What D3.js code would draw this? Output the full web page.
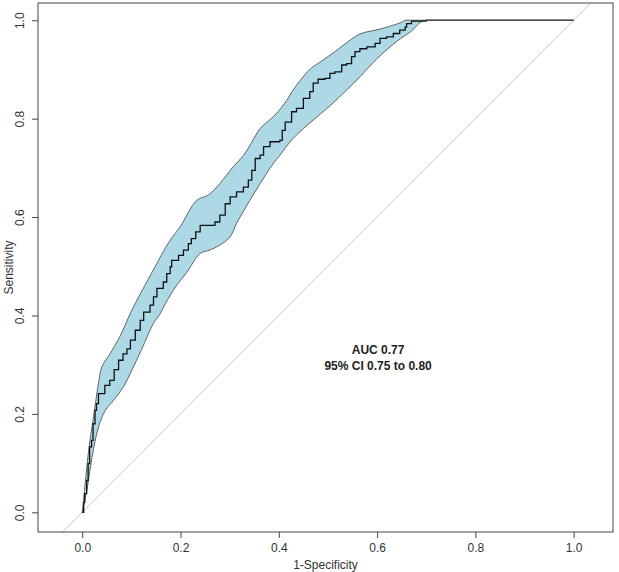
<!DOCTYPE html>
<html><head><meta charset="utf-8">
<script src="https://cdn.jsdelivr.net/npm/d3@7"></script>
<style>body{margin:0;background:#fff}svg{display:block;font-family:"Liberation Sans",Arial,sans-serif}</style>
</head><body>
<svg id="c" width="619" height="572"></svg>
<script>
// ROC curve (1-specificity, sensitivity)
const rocFpr  = [0,0.003,0.005,0.009,0.012,0.015,0.019,0.022,0.026,0.029,0.033,0.046,0.056,0.065,0.074,0.083,0.091,0.098,0.108,0.118,0.125,0.138,0.145,0.152,0.165,0.172,0.179,0.182,0.196,0.206,0.216,0.222,0.231,0.24,0.27,0.28,0.291,0.301,0.314,0.328,0.338,0.345,0.352,0.362,0.369,0.382,0.402,0.407,0.413,0.426,0.436,0.45,0.463,0.47,0.48,0.494,0.504,0.514,0.528,0.538,0.548,0.555,0.565,0.579,0.596,0.606,0.619,0.633,0.646,0.657,0.66,0.67,0.7,1.0];
const rocSens = [0,0.02,0.038,0.065,0.099,0.133,0.146,0.18,0.207,0.221,0.241,0.258,0.268,0.29,0.309,0.322,0.332,0.35,0.37,0.39,0.407,0.421,0.438,0.455,0.468,0.485,0.499,0.512,0.522,0.533,0.546,0.556,0.57,0.583,0.59,0.604,0.627,0.641,0.651,0.661,0.675,0.695,0.719,0.726,0.743,0.753,0.756,0.776,0.793,0.814,0.821,0.841,0.855,0.872,0.88,0.882,0.892,0.895,0.909,0.912,0.926,0.936,0.942,0.946,0.953,0.963,0.966,0.973,0.98,0.986,0.993,0.998,1.0,1.0];
// Upper CI bound
const upFpr  = [0,0.006,0.013,0.023,0.033,0.04,0.057,0.077,0.101,0.128,0.152,0.165,0.179,0.199,0.233,0.257,0.28,0.307,0.328,0.345,0.362,0.392,0.416,0.429,0.463,0.49,0.514,0.54,0.565,0.606,0.633,0.65,0.657];
const upSens = [0,0.058,0.126,0.194,0.262,0.296,0.323,0.358,0.411,0.462,0.506,0.53,0.553,0.58,0.634,0.645,0.668,0.702,0.725,0.752,0.78,0.807,0.837,0.858,0.9,0.919,0.936,0.956,0.972,0.982,0.99,0.996,1.0];
// Lower CI bound
const loFpr  = [0,0.0095,0.02,0.033,0.047,0.064,0.084,0.101,0.12,0.145,0.159,0.169,0.192,0.213,0.24,0.26,0.28,0.301,0.314,0.341,0.362,0.386,0.404,0.423,0.45,0.477,0.504,0.538,0.565,0.6,0.64,0.67,0.687,0.697];
const loSens = [0,0.045,0.112,0.173,0.207,0.228,0.255,0.289,0.329,0.384,0.404,0.424,0.461,0.488,0.526,0.533,0.543,0.56,0.587,0.634,0.668,0.705,0.728,0.753,0.78,0.803,0.826,0.858,0.885,0.922,0.957,0.978,0.995,1.0];
const xTicks = [0,0.2,0.4,0.6,0.8,1.0];
const yTicks = [0,0.2,0.4,0.6,0.8,1.0];
const aucLines = ["AUC 0.77","95% CI 0.75 to 0.80"];
const xTitle = "1-Specificity", yTitle = "Sensitivity";

const svg = d3.select("#c");
const L=38,R=613,T=3,B=532;
const x = d3.scaleLinear().domain([-0.09,1.08]).range([L,R]);
const y = d3.scaleLinear().domain([-0.04,1.035]).range([B,T]);

svg.append("defs").append("clipPath").attr("id","clip").append("rect")
  .attr("x",L).attr("y",T).attr("width",R-L).attr("height",B-T);
const g = svg.append("g").attr("clip-path","url(#clip)");

// diagonal reference
g.append("line").attr("x1",x(-0.2)).attr("y1",y(-0.2)).attr("x2",x(1.2)).attr("y2",y(1.2))
  .attr("stroke","#c8c8c8").attr("stroke-width",1);

// CI band polygon (smooth edges)
const up = upFpr.map((v,i)=>[v,upSens[i]]);
const lo = loFpr.map((v,i)=>[v,loSens[i]]);
const smooth = d3.line().x(d=>x(d[0])).y(d=>y(d[1])).curve(d3.curveCatmullRom.alpha(0.5));
const loRev = lo.slice().reverse();
const upPath = smooth(up);
const loPath = smooth(loRev).replace(/^M/,"L");
g.append("path").attr("d", upPath + loPath + "Z")
  .attr("fill","#add8e6").attr("stroke","#555").attr("stroke-width",0.9);

// ROC curve
const roc = rocFpr.map((v,i)=>[v,rocSens[i]]);
g.append("path").attr("d", d3.line().x(d=>x(d[0])).y(d=>y(d[1])).curve(d3.curveStepAfter)(roc))
  .attr("fill","none").attr("stroke","#111").attr("stroke-width",1.3);

// frame
svg.append("rect").attr("x",L).attr("y",T).attr("width",R-L).attr("height",B-T)
  .attr("fill","none").attr("stroke","#444").attr("stroke-width",1);

// x axis
const xa = svg.append("g").attr("transform",`translate(0,${B})`)
  .call(d3.axisBottom(x).tickValues(xTicks).tickFormat(d3.format(".1f")).tickSize(6).tickPadding(5));
xa.select(".domain").remove();
xa.selectAll("line").attr("stroke","#444");
xa.selectAll("text").attr("font-size",12).attr("fill","#333").attr("font-family","Liberation Sans, Arial, sans-serif");

// y axis
const ya = svg.append("g").attr("transform",`translate(${L},0)`)
  .call(d3.axisLeft(y).tickValues(yTicks).tickFormat(d3.format(".1f")).tickSize(6));
ya.select(".domain").remove();
ya.selectAll("line").attr("stroke","#444");
ya.selectAll("text").attr("x",0).attr("dy",0).attr("font-size",12).attr("fill","#333")
  .attr("font-family","Liberation Sans, Arial, sans-serif")
  .attr("text-anchor","middle").attr("transform","translate(-14,0) rotate(-90)");

// titles
svg.append("text").attr("x",(L+R)/2).attr("y",569).attr("text-anchor","middle")
  .attr("font-size",12).attr("fill","#333").text(xTitle);
svg.append("text").attr("transform",`translate(13,${(T+B)/2}) rotate(-90)`).attr("text-anchor","middle")
  .attr("font-size",12).attr("fill","#333").text(yTitle);

// AUC annotation
svg.append("g").selectAll("text").data(aucLines).join("text")
  .attr("x",x(0.602)).attr("y",(d,i)=>y(0.33)+4+i*16).attr("text-anchor","middle")
  .attr("font-size",12).attr("font-weight","bold").attr("fill","#222").text(d=>d);
</script>
</body></html>
